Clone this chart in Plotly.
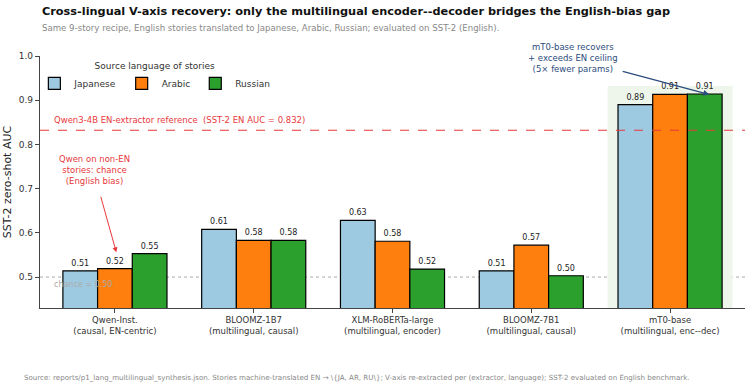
import plotly.graph_objects as go

models = ["Qwen-Inst.<br>(causal, EN-centric)", "BLOOMZ-1B7<br>(multilingual, causal)",
          "XLM-RoBERTa-large<br>(multilingual, encoder)", "BLOOMZ-7B1<br>(multilingual, causal)",
          "mT0-base<br>(multilingual, enc--dec)"]
languages = ["Japanese", "Arabic", "Russian"]
japanese = [0.514, 0.608, 0.628, 0.514, 0.890]
arabic = [0.519, 0.583, 0.581, 0.572, 0.913]
russian = [0.553, 0.583, 0.518, 0.503, 0.914]
colors = ["#9ecae1", "#ff7f0e", "#2ca02c"]
en_ref = 0.832
chance = 0.5

FONT = "DejaVu Sans"
x = list(range(len(models)))
fig = go.Figure()
for name, vals, c in zip(languages, [japanese, arabic, russian], colors):
    fig.add_trace(go.Bar(
        x=x, y=vals, name=name, marker=dict(color=c, line=dict(color="black", width=1.2)),
        text=[f"{v:.2f}" for v in vals], textposition="outside", cliponaxis=False,
        textfont=dict(size=8, color="#222", family=FONT),
    ))

fig.add_shape(type="rect", xref="x", yref="y", x0=3.55, x1=4.45, y0=0.43, y1=0.932,
              fillcolor="#eef6ec", line_width=0, layer="below")
fig.add_shape(type="line", xref="paper", yref="y", x0=0, x1=1, y0=en_ref, y1=en_ref,
              line=dict(color="#e8383b", width=1.2, dash="dash"))
fig.add_shape(type="line", xref="paper", yref="y", x0=0, x1=1, y0=chance, y1=chance,
              line=dict(color="#aaa", width=1, dash="dot"), layer="below")

ann = []
ann.append(dict(x=-0.45, y=en_ref + 0.008, xref="x", yref="y", xanchor="left", yanchor="bottom",
                text="Qwen3-4B EN-extractor reference  (SST-2 EN AUC = 0.832)", showarrow=False,
                font=dict(size=8.5, color="#e8383b", family=FONT)))
ann.append(dict(x=-0.45, y=chance - 0.003, xref="x", yref="y", xanchor="left", yanchor="top",
                text="chance = 0.50", showarrow=False, font=dict(size=8, color="#aaa", family=FONT)))
ann.append(dict(x=-0.145, y=0.742, xref="x", yref="y", text="Qwen on non-EN<br>stories: chance<br>(English bias)",
                showarrow=False, font=dict(size=8.5, color="#e8383b", family=FONT)))
ann.append(dict(x=0.01, y=0.556, ax=-0.105, ay=0.685, xref="x", yref="y", axref="x", ayref="y",
                text="", showarrow=True, arrowhead=2, arrowsize=1, arrowwidth=1, arrowcolor="#e8383b"))
ann.append(dict(x=3.30, y=0.995, xref="x", yref="y", text="mT0-base recovers<br>+ exceeds EN ceiling<br>(5× fewer params)",
                showarrow=False, font=dict(size=8.5, color="#2b4c7e", family=FONT)))
ann.append(dict(x=4.283, y=0.913, ax=3.648, ay=0.966, xref="x", yref="y", axref="x", ayref="y",
                text="", showarrow=True, arrowhead=2, arrowsize=1, arrowwidth=1.2, arrowcolor="#2b4c7e"))
ann.append(dict(x=0.0, y=1.111, xref="paper", yref="paper", xanchor="left", yanchor="middle",
                text="Same 9-story recipe, English stories translated to Japanese, Arabic, Russian; evaluated on SST-2 (English).",
                showarrow=False, font=dict(size=8.6, color="#888", family=FONT)))
ann.append(dict(x=0.0, y=1.175, xref="paper", yref="paper", xanchor="left", yanchor="middle",
                text="<b>Cross-lingual V-axis recovery: only the multilingual encoder--decoder bridges the English-bias gap</b>",
                showarrow=False, font=dict(size=11.3, color="#111", family=FONT)))
ann.append(dict(x=-0.0255, y=-0.274, xref="paper", yref="paper", xanchor="left", yanchor="middle",
                text="Source: reports/p1_lang_multilingual_synthesis.json. Stories machine-translated EN → \\{JA, AR, RU\\}; V-axis re-extracted per (extractor, language); SST-2 evaluated on English benchmark.",
                showarrow=False, font=dict(size=7.1, color="#888", family=FONT)))

fig.update_layout(
    width=752, height=387, margin=dict(l=40, r=7, t=56, b=79),
    paper_bgcolor="white", plot_bgcolor="white",
    barmode="group", bargap=0.25, bargroupgap=0,
    font=dict(family=FONT, size=9, color="#333"),
    annotations=ann,
    legend=dict(x=-0.008, y=0.995, xanchor="left", yanchor="top", orientation="h",
                title=dict(text="Source language of stories", side="top center", font=dict(size=9, family=FONT)),
                font=dict(size=9, family=FONT), bgcolor="rgba(0,0,0,0)", itemwidth=30),
    xaxis=dict(tickmode="array", tickvals=x, ticktext=models, range=[-0.54, 4.54],
               showline=True, linecolor="#444", linewidth=1.2, ticks="outside", ticklen=4,
               tickcolor="#444", tickfont=dict(size=8.5, color="#333"), showgrid=False, zeroline=False),
    yaxis=dict(range=[0.43, 1.0], tickvals=[0.5, 0.6, 0.7, 0.8, 0.9, 1.0],
               ticktext=["0.5", "0.6", "0.7", "0.8", "0.9", "1.0"],
               showline=True, linecolor="#444", linewidth=1.2, ticks="outside", ticklen=4,
               tickcolor="#444", tickfont=dict(size=9, color="#333"), showgrid=False, zeroline=False,
               title=dict(text="SST-2 zero-shot AUC", font=dict(size=11, color="#222"), standoff=4)),
)
fig.write_html("out.html")
